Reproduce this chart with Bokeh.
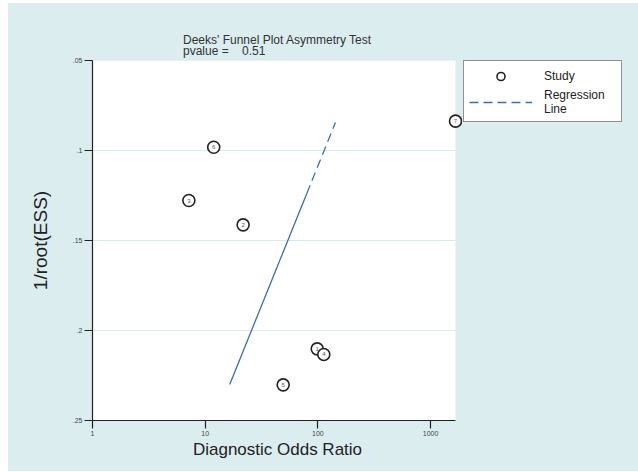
from bokeh.plotting import figure
from bokeh.models import Range1d, FixedTicker, Legend, LegendItem, BoxAnnotation, ColumnDataSource, Spacer
from bokeh.layouts import row, column
from bokeh.core.properties import value
from bokeh.embed import file_html
from bokeh.resources import INLINE
import math

# ---- data ----
study = ["1", "2", "3", "4", "5", "6", "7"]
dor = [98.6, 21.7, 7.16, 112.8, 49.2, 11.9, 1663.0]
inv_root_ess = [0.2102, 0.1413, 0.1278, 0.2133, 0.2302, 0.0982, 0.0837]

# regression line (fitted line: log10(DOR) linear in 1/root(ESS))
reg_y_ends = [0.2300, 0.0845]
reg_dor_ends = [16.5, 143.0]
reg_dash_start_y = 0.124

pvalue = 0.51

y_ticks = [0.05, 0.10, 0.15, 0.20, 0.25]
y_tick_labels = [".05", ".1", ".15", ".2", ".25"]
y_grid_ticks = [0.10, 0.15, 0.20]
x_ticks = [1, 10, 100, 1000]
x_tick_labels = ["1", "10", "100", "1000"]

FONT = "Liberation Sans"
BG = "#dcedf0"
LINE_BLUE = "#3f6fa6"

# break point of regression line (solid below, dashed above)
l0, l1 = math.log10(reg_dor_ends[0]), math.log10(reg_dor_ends[1])
t = (reg_dash_start_y - reg_y_ends[0]) / (reg_y_ends[1] - reg_y_ends[0])
dor_break = 10 ** (l0 + t * (l1 - l0))

x_max_data = max(dor)

FIG_H = 468
ML, MT, MB, MR = 84, 57, 51, 0
FRAME_W = 370
FIG_W = ML + FRAME_W + MR
LEG_W = 630 - FIG_W
DECADE_PX = 112.7
frame_x_end = 10 ** (FRAME_W / DECADE_PX)

p = figure(width=FIG_W, height=FIG_H, x_axis_type="log",
           x_range=Range1d(1, frame_x_end), y_range=Range1d(0.25, 0.05),
           output_backend="svg", toolbar_location=None,
           min_border_left=ML, min_border_right=MR,
           min_border_top=MT, min_border_bottom=MB)

p.border_fill_color = BG
p.background_fill_color = BG
p.outline_line_color = None

# white plotting region
box = BoxAnnotation(left=1, right=x_max_data, top=0.05, bottom=0.25,
                    fill_color="white", fill_alpha=1.0, line_color=None, level="image")
p.add_layout(box)

# grid
p.xgrid.visible = False
g = p.ygrid[0]
g.ticker = FixedTicker(ticks=y_grid_ticks)
g.grid_line_color = "#d6eaf0"
g.grid_line_width = 1.2
g.level = "underlay"
if "cross_bounds" in g.properties():
    g.cross_bounds = (1, x_max_data)

# axes
for ax in (p.xaxis[0], p.yaxis[0]):
    ax.axis_line_color = "#222222"
    ax.axis_line_width = 1.2
    ax.major_tick_line_color = "#222222"
    ax.major_tick_line_width = 1.2
    ax.major_tick_out = 8
    ax.major_tick_in = 0
    ax.minor_tick_line_color = None
    ax.major_label_text_font = FONT
    ax.major_label_text_font_size = "7px"
    ax.major_label_text_color = "#444444"
    ax.major_label_standoff = 2
    ax.axis_label_text_font = FONT
    ax.axis_label_text_font_style = "normal"
    ax.axis_label_text_color = "#222222"

p.yaxis.ticker = FixedTicker(ticks=y_ticks)
p.yaxis.major_label_overrides = dict(zip(y_ticks, y_tick_labels))
p.yaxis.axis_label = "1/root(ESS)"
p.yaxis.axis_label_text_font_size = "19px"
p.yaxis.axis_label_standoff = 19

p.xaxis.ticker = FixedTicker(ticks=x_ticks)
p.xaxis.major_label_overrides = dict(zip(x_ticks, x_tick_labels))
p.xaxis.axis_label = "Diagnostic Odds Ratio"
p.xaxis.axis_label_text_font_size = "17px"
p.xaxis.axis_label_standoff = 1
p.xaxis.bounds = (1, x_max_data)

# title (two lines)
p.title.text = "Deeks' Funnel Plot Asymmetry Test\npvalue = \u00a0\u00a0\u00a0%.2f" % pvalue
p.title.text_font = FONT
p.title.text_font_size = "12px"
p.title.text_font_style = "normal"
p.title.text_color = "#333333"
p.title.text_line_height = 0.85
p.title.align = "center"
p.title.standoff = 4

# regression line
REG_STYLE = dict(line_color=LINE_BLUE, line_width=1.3)
p.line(x=[reg_dor_ends[0], dor_break], y=[reg_y_ends[0], reg_dash_start_y], **REG_STYLE)
p.line(x=[dor_break, reg_dor_ends[1]], y=[reg_dash_start_y, reg_y_ends[1]],
       line_dash="9 5", **REG_STYLE)

# studies
PT_STYLE = dict(marker="circle", size=12, fill_color="white", line_color="#222222", line_width=1.6)
src = ColumnDataSource(dict(x=dor, y=inv_root_ess, s=study))
p.scatter("x", "y", source=src, **PT_STYLE)
p.text("x", "y", text="s", source=src, text_font=value(FONT), text_font_size="6px",
       text_align="center", text_baseline="middle", text_color="#555555")

# legend panel (separate plot area to the right of the graph region);
# its proxy renderers use the same data, which lies outside this panel's range
q = figure(width=LEG_W, height=FIG_H, x_range=Range1d(0, 1), y_range=Range1d(0, 1),
           output_backend="svg", toolbar_location=None,
           x_axis_location=None, y_axis_location=None,
           min_border_left=0, min_border_right=0, min_border_top=0, min_border_bottom=0)
q.border_fill_color = BG
q.background_fill_color = BG
q.outline_line_color = None
q.grid.visible = False
leg_pts = q.scatter(x=dor, y=inv_root_ess, **PT_STYLE)
leg_reg = q.line(x=reg_dor_ends, y=reg_y_ends, line_dash="9 5", **REG_STYLE)

legend = Legend(items=[LegendItem(label="Study", renderers=[leg_pts], index=0),
                       LegendItem(label="Regression\nLine", renderers=[leg_reg])],
                location=(1, 298), orientation="vertical")
legend.border_line_color = "#222222"
legend.border_line_width = 1.2
legend.background_fill_color = "white"
legend.background_fill_alpha = 1.0
legend.label_text_font = FONT
legend.label_text_font_size = "12px"
legend.label_text_color = "#222222"
legend.label_text_line_height = 1.0
legend.glyph_width = 63
legend.glyph_height = 20
legend.label_height = 20
legend.label_width = 72
legend.label_standoff = 12
legend.padding = 5
legend.spacing = 2
legend.margin = 0
q.add_layout(legend, "center")

inner = row(p, q, styles={"background-color": BG})
layout = column(Spacer(height=3, width=638),
                row(Spacer(width=8, height=FIG_H), inner))

open("out.html", "w").write(file_html(layout, INLINE))
